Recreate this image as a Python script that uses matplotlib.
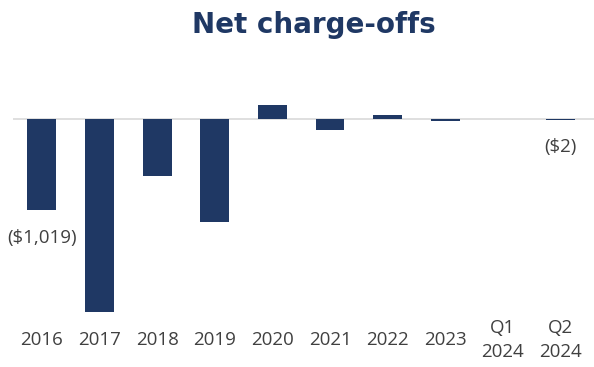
import matplotlib.pyplot as plt

# net charge-offs, $ millions (negative = net recoveries shown as losses)
periods = ["2016", "2017", "2018", "2019", "2020", "2021", "2022", "2023",
           "Q1\n2024", "Q2\n2024"]
values = [-1019, -2162, -637, -1154, 164, -120, 50, -20, 0, -2]
labelled = {0: "($1,019)", 9: "($2)"}

NAVY = "#1F3864"
GREY_TEXT = "#404040"

plt.rcParams["font.family"] = ["Open Sans", "DejaVu Sans"]

fig = plt.figure(figsize=(5.94, 3.67), dpi=100)
ax = fig.add_axes([13 / 594, 1 - 318 / 367, 1 - 13 / 594, 218 / 367])

x = list(range(len(values)))
ax.bar(x, values, width=0.5, color=NAVY, zorder=2)
ax.axhline(0, color="#D9D9D9", lw=1.2, zorder=1)

for i, text in labelled.items():
    ax.annotate(text, (x[i], values[i]), xytext=(0, -20), textcoords="offset points",
                ha="center", va="center", fontsize=13.5, color=GREY_TEXT)

ax.set_xlim(-0.5, 9.58)
ax.set_ylim(-2230, 219)
ax.set_yticks([])
ax.set_xticks(x)
ax.set_xticklabels(periods, fontsize=13.5, color=GREY_TEXT, linespacing=1.4)
for lbl in ax.get_xticklabels():
    lbl.set_verticalalignment("center")
ax.tick_params(axis="x", length=0, pad=16)
for side in ax.spines.values():
    side.set_visible(False)

fig.text(314 / 594, 1 - 25 / 367, "Net charge-offs", ha="center", va="center",
         fontsize=20, fontweight="bold", color=NAVY, family="DejaVu Sans")

fig.savefig("out.png", dpi=100)
